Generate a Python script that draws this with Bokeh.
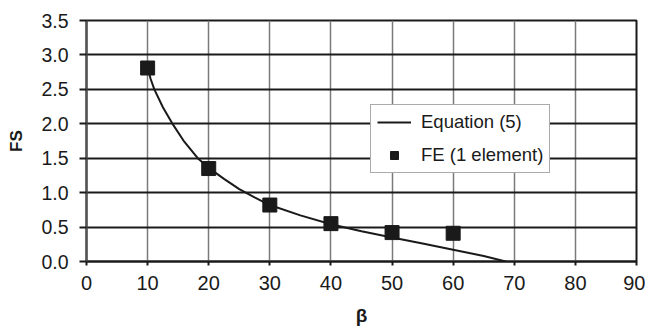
from bokeh.plotting import figure
from bokeh.models import Range1d, FixedTicker, PrintfTickFormatter, Legend, LegendItem
from bokeh.embed import file_html
from bokeh.resources import INLINE

# Equation (5) curve
eq_beta = [10, 10.5, 11.1, 12.5, 14, 16, 18.2, 20, 22.5, 25, 27.5, 30, 35, 40, 45, 50, 55, 60, 65, 68.6]
eq_fs = [2.82, 2.65, 2.50, 2.24, 2.01, 1.74, 1.50, 1.36, 1.20, 1.05, 0.93, 0.82, 0.67, 0.54, 0.44, 0.35, 0.26, 0.17, 0.08, 0.0]

# FE (1 element) results
fe_beta = [10, 20, 30, 40, 50, 60]
fe_fs = [2.81, 1.35, 0.82, 0.55, 0.42, 0.41]

x_ticks = [0, 10, 20, 30, 40, 50, 60, 70, 80, 90]
y_ticks = [0.0, 0.5, 1.0, 1.5, 2.0, 2.5, 3.0, 3.5]

FONT = "Liberation Sans"
INK = "#1a1a1a"

p = figure(width=645, height=329, output_backend="svg", toolbar_location=None,
           x_range=Range1d(0, 90), y_range=Range1d(0, 3.5))
p.min_border_left = 86
p.min_border_right = 9
p.min_border_top = 20
p.min_border_bottom = 68
p.background_fill_color = "white"
p.border_fill_color = "white"
p.outline_line_color = INK
p.outline_line_width = 2

p.xaxis.ticker = FixedTicker(ticks=x_ticks)
p.yaxis.ticker = FixedTicker(ticks=y_ticks)
p.yaxis.formatter = PrintfTickFormatter(format="%.1f")
p.xaxis.minor_tick_line_color = None
p.yaxis.minor_tick_line_color = None
p.xaxis.major_tick_in = 0
p.yaxis.major_tick_in = 0
p.xaxis.major_tick_out = 4
p.yaxis.major_tick_out = 7
p.xaxis.major_tick_line_width = 2
p.yaxis.major_tick_line_width = 2
p.xaxis.major_tick_line_color = INK
p.yaxis.major_tick_line_color = INK
p.xaxis.axis_line_color = INK
p.xaxis.axis_line_width = 2
p.yaxis.axis_line_color = "#555555"
p.yaxis.axis_line_width = 2

for ax in (p.xaxis, p.yaxis):
    ax.major_label_text_font = FONT
    ax.major_label_text_color = INK
    ax.axis_label_text_font = FONT
    ax.axis_label_text_font_style = "bold"
    ax.axis_label_text_color = INK
p.xaxis.major_label_text_font_size = "20px"
p.yaxis.major_label_text_font_size = "19.5px"
p.xaxis.major_label_standoff = 10
p.yaxis.major_label_standoff = 11
p.xaxis.axis_label = "β"
p.yaxis.axis_label = "FS"
p.xaxis.axis_label_text_font_size = "19px"
p.yaxis.axis_label_text_font_size = "17px"
p.xaxis.axis_label_standoff = 12
p.yaxis.axis_label_standoff = 12

p.xgrid.grid_line_color = "#7a7a7a"
p.xgrid.grid_line_width = 1.5
p.ygrid.grid_line_color = INK
p.ygrid.grid_line_width = 2

line = p.line(eq_beta, eq_fs, line_color=INK, line_width=2)
sq = p.scatter(fe_beta, fe_fs, marker="square", size=14, fill_color=INK, line_color=INK)

legend = Legend(items=[LegendItem(label="Equation (5)", renderers=[line]),
                       LegendItem(label="FE (1 element)", renderers=[sq])],
                location=(284, 88))
legend.label_text_font = FONT
legend.label_text_font_size = "18.5px"
legend.label_text_color = INK
legend.border_line_color = "#555555"
legend.border_line_width = 1.5
legend.background_fill_color = "white"
legend.background_fill_alpha = 1
legend.padding = 6
legend.margin = 0
legend.spacing = 11
legend.glyph_width = 34
legend.glyph_height = 20
legend.label_height = 20
legend.label_standoff = 10
p.add_layout(legend, "center")

open("out.html", "w").write(file_html(p, INLINE))
